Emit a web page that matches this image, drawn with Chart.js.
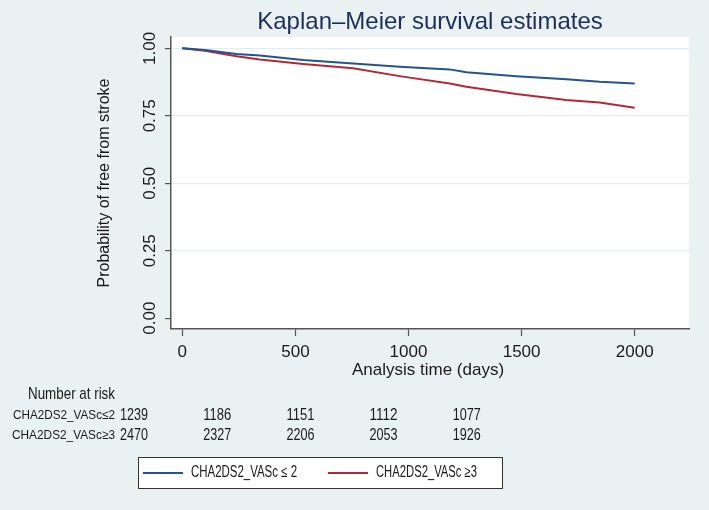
<!DOCTYPE html>
<html>
<head>
<meta charset="utf-8">
<script src="https://cdn.jsdelivr.net/npm/chart.js@4/dist/chart.umd.min.js"></script>
<style>
  html, body { margin: 0; padding: 0; background: #e9f1f3; }
  canvas { display: block; }
</style>
</head>
<body>
<canvas id="km" width="709" height="510"></canvas>
<script>
// data
const tiempos = [0, 100, 240, 343, 534, 755, 961, 1182, 1256, 1477, 1698, 1845, 2000];
const survBajo = [1.0, 0.994, 0.979, 0.973, 0.957, 0.944, 0.932, 0.922, 0.911, 0.897, 0.885, 0.876, 0.870];
const survAlto = [1.0, 0.991, 0.971, 0.959, 0.942, 0.926, 0.897, 0.870, 0.858, 0.831, 0.809, 0.799, 0.780];

const xTicks = [0, 500, 1000, 1500, 2000];
const yTicks = [0, 0.25, 0.5, 0.75, 1];

const riesgoTiempos = [0, 500, 1000, 1500, 2000];
const riesgoBajo = [1239, 1186, 1151, 1112, 1077];
const riesgoAlto = [2470, 2327, 2206, 2053, 1926];

const etiquetaBajo = "CHA2DS2_VASc≤2";
const etiquetaAlto = "CHA2DS2_VASc≥3";
const leyendaBajo = "CHA2DS2_VASc ≤ 2";
const leyendaAlto = "CHA2DS2_VASc ≥3";

const AZUL = "#23548a";
const ROJO = "#b02a36";
const FONDO = "#e9f1f3";
const EJE = "#555555";
const FUENTE = "'Liberation Sans', Arial, sans-serif";

// draws text squeezed into a given width (the lower part of the figure is condensed)
function textoAjustado(ctx, texto, x, y, px, ancho, color) {
  ctx.save();
  ctx.font = px + "px " + FUENTE;
  ctx.fillStyle = color || "#1a1a1a";
  ctx.textBaseline = "middle";
  ctx.textAlign = "left";
  const w = ctx.measureText(texto).width;
  const sx = ancho / w;
  ctx.translate(x, y);
  ctx.scale(sx, 1);
  ctx.fillText(texto, 0, 0);
  ctx.restore();
}

const decoracion = {
  id: "decoracion",
  beforeDraw(chart) {
    const { ctx, chartArea: a } = chart;
    ctx.save();
    ctx.fillStyle = FONDO;
    ctx.fillRect(0, 0, chart.width, chart.height);
    ctx.fillStyle = "#ffffff";
    ctx.fillRect(a.left, a.top, a.right - a.left, a.bottom - a.top);
    ctx.restore();
  },
  afterDraw(chart) {
    const { ctx, chartArea: a } = chart;
    const ys = chart.scales.y;

    ctx.save();
    // title
    ctx.font = "24px " + FUENTE;
    ctx.fillStyle = "#1e2d5c";
    ctx.textAlign = "center";
    ctx.textBaseline = "alphabetic";
    ctx.fillText("Kaplan–Meier survival estimates", (a.left + a.right) / 2, 29);

    // y tick labels, rotated
    ctx.font = "17px " + FUENTE;
    ctx.fillStyle = "#1a1a1a";
    yTicks.forEach((v) => {
      const py = ys.getPixelForValue(v);
      ctx.save();
      ctx.translate(150, py);
      ctx.rotate(-Math.PI / 2);
      ctx.textAlign = "center";
      ctx.textBaseline = "middle";
      ctx.fillText(v.toFixed(2), 0, 0);
      ctx.restore();
    });

    // y axis title
    ctx.save();
    ctx.translate(105, (a.top + a.bottom) / 2);
    ctx.rotate(-Math.PI / 2);
    ctx.textAlign = "center";
    ctx.textBaseline = "middle";
    ctx.font = "16px " + FUENTE;
    ctx.fillText("Probability of free from stroke", 0, 0);
    ctx.restore();

    // x axis title
    ctx.textAlign = "center";
    ctx.textBaseline = "alphabetic";
    ctx.font = "17px " + FUENTE;
    ctx.fillText("Analysis time (days)", 428, 375);

    // number at risk table
    textoAjustado(ctx, "Number at risk", 28, 394, 17, 87);
    textoAjustado(ctx, etiquetaBajo, 13, 415, 13, 102);
    textoAjustado(ctx, etiquetaAlto, 12, 435, 13, 103);
    riesgoTiempos.forEach((t, i) => {
      const cx = 134 + i * 83.2;
      textoAjustado(ctx, String(riesgoBajo[i]), cx - 14, 415, 17, 28);
      textoAjustado(ctx, String(riesgoAlto[i]), cx - 14, 435, 17, 28);
    });

    // legend
    ctx.fillStyle = "#ffffff";
    ctx.fillRect(138, 457, 364, 31);
    ctx.strokeStyle = "#333333";
    ctx.lineWidth = 1;
    ctx.strokeRect(138.5, 457.5, 364, 31);
    ctx.lineWidth = 2;
    ctx.strokeStyle = AZUL;
    ctx.beginPath(); ctx.moveTo(143, 473); ctx.lineTo(183, 473); ctx.stroke();
    ctx.strokeStyle = ROJO;
    ctx.beginPath(); ctx.moveTo(328, 473); ctx.lineTo(368, 473); ctx.stroke();
    textoAjustado(ctx, leyendaBajo, 191, 473, 16, 106);
    textoAjustado(ctx, leyendaAlto, 376, 473, 16, 101);
    ctx.restore();
  },
};

const puntos = (ys) => tiempos.map((t, i) => ({ x: t, y: ys[i] }));

new Chart(document.getElementById("km"), {
  type: "line",
  data: {
    datasets: [
      { label: leyendaBajo, data: puntos(survBajo), borderColor: AZUL, borderWidth: 2, pointRadius: 0, tension: 0, fill: false },
      { label: leyendaAlto, data: puntos(survAlto), borderColor: ROJO, borderWidth: 2, pointRadius: 0, tension: 0, fill: false },
    ],
  },
  options: {
    responsive: false,
    animation: false,
    layout: { padding: { left: 0, top: 37, right: 20, bottom: 141 } },
    plugins: { legend: { display: false }, title: { display: false }, tooltip: { enabled: false } },
    scales: {
      x: {
        type: "linear",
        min: -50,
        max: 2240,
        afterBuildTicks: (s) => { s.ticks = xTicks.map((v) => ({ value: v })); },
        afterFit: (s) => { s.height = 40; },
        grid: { drawOnChartArea: false, drawTicks: true, tickLength: 7, tickColor: EJE, tickWidth: 1.2 },
        border: { display: true, color: EJE, width: 1.5 },
        ticks: {
          color: "#1a1a1a",
          font: { family: FUENTE, size: 17 },
          padding: 6,
          maxRotation: 0,
          callback: (v) => String(v),
        },
      },
      y: {
        type: "linear",
        min: -0.04,
        max: 1.042,
        afterBuildTicks: (s) => { s.ticks = yTicks.map((v) => ({ value: v })); },
        afterFit: (s) => { s.width = 171; },
        grid: {
          color: (c) => (c.tick && c.tick.value === 0 ? "rgba(0,0,0,0)" : "#e2edf1"),
          lineWidth: 1.2,
          tickLength: 6,
          tickColor: EJE,
          tickWidth: 1.2,
        },
        border: { display: true, color: EJE, width: 1.5 },
        ticks: { display: false },
      },
    },
  },
  plugins: [decoracion],
});
</script>
</body>
</html>
